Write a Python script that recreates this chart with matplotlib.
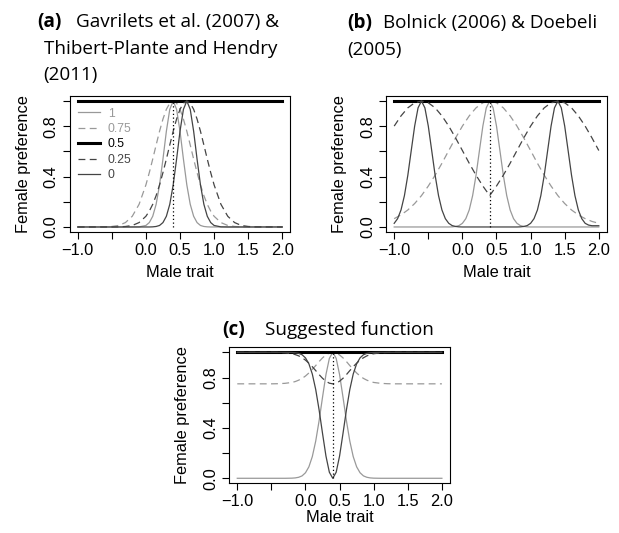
import matplotlib
matplotlib.use("Agg")
import matplotlib.pyplot as plt

# female trait value (dotted line) and choosiness levels
female_trait = 0.4
choosiness = ["1", "0.75", "0.5", "0.25", "0"]

# flat line for random mating (c = 0.5)
flat_x = [-1.0, 2.0]
flat_y = [1.0, 1.0]

# (a) Gavrilets / Thibert-Plante & Hendry
a_x = [-1.0, -0.6, -0.5, -0.4, -0.3, -0.2, -0.1,
       0.0, 0.05, 0.1, 0.15, 0.2, 0.25, 0.3, 0.35, 0.4, 0.45, 0.5,
       0.55, 0.6, 0.65, 0.7, 0.75, 0.8, 0.85, 0.9, 0.95, 1.0,
       1.1, 1.2, 1.3, 1.4, 1.5, 1.6, 2.0]
a_c1 = [0, 0, 0, 0, 0, 0, 0.001,
        0.012, 0.035, 0.085, 0.18, 0.334, 0.539, 0.76, 0.934, 1.0, 0.934, 0.76,
        0.539, 0.334, 0.18, 0.085, 0.035, 0.012, 0.004, 0.001, 0, 0,
        0, 0, 0, 0, 0, 0, 0]
a_c075 = [0, 0.001, 0.004, 0.012, 0.035, 0.085, 0.18,
          0.334, 0.432, 0.539, 0.651, 0.76, 0.857, 0.934, 0.983, 1.0, 0.983, 0.934,
          0.857, 0.76, 0.651, 0.539, 0.432, 0.334, 0.249, 0.18, 0.126, 0.085,
          0.035, 0.012, 0.004, 0.001, 0, 0, 0]
a_c025 = [0, 0, 0, 0.001, 0.004, 0.012, 0.035,
          0.085, 0.126, 0.18, 0.249, 0.334, 0.432, 0.539, 0.651, 0.76, 0.857, 0.934,
          0.983, 1.0, 0.983, 0.934, 0.857, 0.76, 0.651, 0.539, 0.432, 0.334,
          0.18, 0.085, 0.035, 0.012, 0.004, 0.001, 0]
a_c0 = [0, 0, 0, 0, 0, 0, 0,
        0, 0, 0.001, 0.004, 0.012, 0.035, 0.085, 0.18, 0.334, 0.539, 0.76,
        0.934, 1.0, 0.934, 0.76, 0.539, 0.334, 0.18, 0.085, 0.035, 0.012,
        0.001, 0, 0, 0, 0, 0, 0]

# (b) Bolnick / Doebeli
b_x_c1 = [-1.0, -0.2, -0.15, -0.1, -0.05, 0.0, 0.05, 0.1, 0.15, 0.2, 0.25, 0.3,
          0.35, 0.4, 0.45, 0.5, 0.55, 0.6, 0.65, 0.7, 0.75, 0.8, 0.85, 0.9,
          0.95, 1.0, 2.0]
b_c1 = [0, 0, 0.001, 0.004, 0.011, 0.029, 0.066, 0.135, 0.249, 0.411, 0.607, 0.801,
        0.946, 1.0, 0.946, 0.801, 0.607, 0.411, 0.249, 0.135, 0.066, 0.029, 0.011, 0.004,
        0.001, 0, 0]
b_x_wide = [-1.0, -0.9, -0.8, -0.7, -0.6, -0.5, -0.4, -0.3, -0.2, -0.1, 0.0,
            0.1, 0.2, 0.3, 0.4, 0.5, 0.6, 0.7, 0.8, 0.9, 1.0,
            1.1, 1.2, 1.3, 1.4, 1.5, 1.6, 1.7, 1.8, 1.9, 2.0]
b_c075 = [0.066, 0.096, 0.135, 0.186, 0.249, 0.325, 0.411, 0.506, 0.607, 0.707, 0.801,
          0.882, 0.946, 0.986, 1.0, 0.986, 0.946, 0.882, 0.801, 0.707, 0.607,
          0.506, 0.411, 0.325, 0.249, 0.186, 0.135, 0.096, 0.066, 0.044, 0.029]
b_c025 = [0.801, 0.882, 0.946, 0.986, 1.0, 0.986, 0.946, 0.882, 0.801, 0.707, 0.607,
          0.506, 0.411, 0.325, 0.249, 0.325, 0.411, 0.506, 0.607, 0.707, 0.801,
          0.882, 0.946, 0.986, 1.0, 0.986, 0.946, 0.882, 0.801, 0.707, 0.607]
b_x_c0 = [-1.0, -0.95, -0.9, -0.85, -0.8, -0.75, -0.7, -0.65, -0.6, -0.55, -0.5,
          -0.45, -0.4, -0.35, -0.3, -0.25, -0.2, -0.15, -0.1, -0.05, 0.0,
          0.8, 0.85, 0.9, 0.95, 1.0, 1.05, 1.1, 1.15, 1.2, 1.25, 1.3, 1.35, 1.4,
          1.45, 1.5, 1.55, 1.6, 1.65, 1.7, 1.75, 1.8, 1.85, 1.9, 1.95, 2.0]
b_c0 = [0.029, 0.066, 0.135, 0.249, 0.411, 0.607, 0.801, 0.946, 1.0, 0.946, 0.801,
        0.607, 0.411, 0.249, 0.135, 0.066, 0.029, 0.011, 0.004, 0.001, 0,
        0, 0.001, 0.004, 0.011, 0.029, 0.066, 0.135, 0.249, 0.411, 0.607, 0.801, 0.946, 1.0,
        0.946, 0.801, 0.607, 0.411, 0.249, 0.135, 0.066, 0.029, 0.015, 0.01, 0.01, 0.01]

# (c) suggested function
c_x = [-1.0, -0.5, -0.4, -0.3, -0.2, -0.15, -0.1, -0.05, 0.0, 0.05, 0.1, 0.15,
       0.2, 0.25, 0.3, 0.35, 0.4, 0.45, 0.5, 0.55, 0.6, 0.65, 0.7, 0.75, 0.8,
       0.85, 0.9, 0.95, 1.0, 1.1, 1.2, 1.3, 2.0]
c_c1 = [0, 0, 0, 0, 0.001, 0.003, 0.008, 0.019, 0.044, 0.091, 0.172, 0.295,
        0.458, 0.644, 0.823, 0.952, 1.0, 0.952, 0.823, 0.644, 0.458, 0.295, 0.172, 0.091, 0.044,
        0.019, 0.008, 0.003, 0.001, 0, 0, 0, 0]
c_c075 = [0.75, 0.75, 0.751, 0.754, 0.761, 0.768, 0.779, 0.793, 0.812, 0.836, 0.865, 0.895,
          0.927, 0.956, 0.979, 0.995, 1.0, 0.995, 0.979, 0.956, 0.927, 0.895, 0.865, 0.836, 0.812,
          0.793, 0.779, 0.768, 0.761, 0.754, 0.751, 0.75, 0.75]
c_c025 = [1.0, 1.0, 0.999, 0.996, 0.989, 0.982, 0.972, 0.957, 0.938, 0.914, 0.886, 0.855,
          0.823, 0.794, 0.771, 0.755, 0.75, 0.755, 0.771, 0.794, 0.823, 0.855, 0.886, 0.914, 0.938,
          0.957, 0.972, 0.982, 0.989, 0.996, 0.999, 1.0, 1.0]
c_c0 = [1, 1, 1, 1, 0.999, 0.997, 0.992, 0.981, 0.956, 0.909, 0.828, 0.705,
        0.542, 0.356, 0.177, 0.048, 0.0, 0.048, 0.177, 0.356, 0.542, 0.705, 0.828, 0.909, 0.956,
        0.981, 0.992, 0.997, 0.999, 1, 1, 1, 1]

x_ticks = [-1.0, -0.5, 0.0, 0.5, 1.0, 1.5, 2.0]
x_tick_labels = ["\u22121.0", "", "0.0", "0.5", "1.0", "1.5", "2.0"]
y_ticks = [0.0, 0.2, 0.4, 0.6, 0.8, 1.0]
y_tick_labels = ["0.0", "", "0.4", "", "0.8", ""]

light = "#999999"
dark = "#444444"
dash = (0, (5.5, 3.5))
styles = [
    dict(color=light, lw=0.9, ls="-"),
    dict(color=light, lw=0.9, ls=dash),
    dict(color="black", lw=2.2, ls="-"),
    dict(color=dark, lw=0.9, ls=dash),
    dict(color=dark, lw=0.9, ls="-"),
]

plt.rcParams["font.family"] = ["Liberation Sans", "DejaVu Sans"]
fig = plt.figure(figsize=(6.19, 5.33), dpi=100)


def setup(ax, xlab_y):
    ax.set_xlim(-1.12, 2.12)
    ax.set_ylim(-0.04, 1.04)
    ax.set_xticks(x_ticks)
    ax.set_xticklabels(x_tick_labels)
    ax.set_yticks(y_ticks)
    ax.set_yticklabels(y_tick_labels, rotation=90, va="center")
    ax.tick_params(direction="out", length=5, width=0.8, labelsize=11.8, pad=3)
    for s in ax.spines.values():
        s.set_linewidth(0.8)
    ax.set_xlabel("Male trait", fontsize=11.8, va="center")
    ax.xaxis.set_label_coords(0.5, xlab_y)
    ax.set_ylabel("Female preference", fontsize=11.8, va="center")
    ax.yaxis.set_label_coords(-0.21, 0.5)


def draw(ax, series):
    lines = []
    for (xs, ys), st, lab in zip(series, styles, choosiness):
        ln, = ax.plot(xs, ys, label=lab, **st)
        lines.append(ln)
    ax.vlines(female_trait, 0, 1, colors="black", linestyles=(0, (1, 2)), linewidth=0.9)
    return lines


ax_a = fig.add_axes([0.1123, 0.5647, 0.357, 0.2552])
draw(ax_a, [(a_x, a_c1), (a_x, a_c075), (flat_x, flat_y), (a_x, a_c025), (a_x, a_c0)])
setup(ax_a, -0.30)
ax_a.legend(loc="upper left", bbox_to_anchor=(0.0385, 0.915), frameon=False, fontsize=8.8,
            handlelength=1.8, handletextpad=0.65, labelspacing=0.28, borderpad=0,
            borderaxespad=0, labelcolor="linecolor")

ax_b = fig.add_axes([0.6236, 0.5647, 0.357, 0.2552])
draw(ax_b, [(b_x_c1, b_c1), (b_x_wide, b_c075), (flat_x, flat_y), (b_x_wide, b_c025), (b_x_c0, b_c0)])
setup(ax_b, -0.30)

ax_c = fig.add_axes([0.3701, 0.0932, 0.357, 0.2552])
draw(ax_c, [(c_x, c_c1), (c_x, c_c075), (flat_x, flat_y), (c_x, c_c025), (c_x, c_c0)])
setup(ax_c, -0.25)

# panel titles
W, H = 619.0, 533.0
tfont = "Open Sans"
tsize = 13.6


def title(x, y, s, bold=False):
    fig.text(x / W, 1 - y / H, s, fontsize=tsize, family=tfont,
             fontweight="bold" if bold else "normal", ha="left", va="baseline")


title(37, 27, "(a)", True)
title(76, 27, "Gavrilets et al. (2007) &")
title(43.5, 53.5, "Thibert-Plante and Hendry")
title(43.5, 80, "(2011)")
title(347, 28, "(b)", True)
title(383, 28, "Bolnick (2006) & Doebeli")
title(347, 55, "(2005)")
title(222, 335, "(c)", True)
title(265, 335, "Suggested function")

fig.savefig("out.png", dpi=100)
